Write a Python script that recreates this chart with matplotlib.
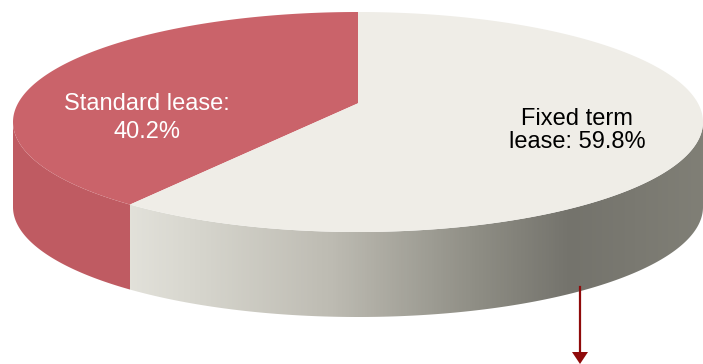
import matplotlib
matplotlib.use("Agg")
import matplotlib.pyplot as plt
import numpy as np
from matplotlib.colors import LinearSegmentedColormap
from matplotlib.patches import Polygon

plt.rcParams['font.family'] = ['Liberation Sans', 'DejaVu Sans']

labels = ["Fixed term\nlease: 59.8%", "Standard lease:\n40.2%"]
shares = [59.8, 40.2]

W, H = 703, 364
cx, top_y = 358, 12      # pie centre column, back of the rim
a, b = 345, 110          # half width and half height of the top outline
k = 0.17                 # perspective strength
depth = 85


def apex():
    return cx, top_y + b - b * k


def rim(theta):
    # theta in degrees, clockwise from the back of the pie
    t = np.radians(theta)
    u, v = np.sin(t), -np.cos(t)
    d = 1 - k * v
    x = cx + a * np.sqrt(1 - k ** 2) * u / d
    y = apex()[1] + b * (1 - k ** 2) * v / d
    return x, y


split = 360 * shares[0] / sum(shares)
th_fixed = np.linspace(0, split, 200)
th_std = np.linspace(split, 360, 200)

# only the front of the rim has a visible wall
edge = np.degrees(np.arccos(-k))
th_fixed_wall = np.linspace(edge, split, 200)
th_std_wall = np.linspace(split, 360 - edge, 200)

fig = plt.figure(figsize=(W / 100, H / 100), dpi=100)
ax = fig.add_axes([0, 0, 1, 1])
ax.set_xlim(0, W)
ax.set_ylim(H, 0)
ax.axis("off")

# side walls
xw, yw = rim(th_std_wall)
ax.fill(np.r_[xw, xw[::-1]], np.r_[yw, yw[::-1] + depth], color="#bf5b62", lw=0)

xw, yw = rim(th_fixed_wall)
wall = Polygon(np.c_[np.r_[xw, xw[::-1]], np.r_[yw, yw[::-1] + depth]], closed=True,
               transform=ax.transData, fc="none", ec="none")
ax.add_patch(wall)
side_cmap = LinearSegmentedColormap.from_list(
    "side", [(0.0, "#e6e5de"), (0.14, "#d8d7cf"), (0.38, "#bdbbb2"),
             (0.62, "#8f8e85"), (0.78, "#74736c"), (1.0, "#807f76")])
grad = ax.imshow(np.linspace(0, 1, 400)[None, :], cmap=side_cmap, aspect="auto",
                 extent=[105, W, H, 0], zorder=1)
grad.set_clip_path(wall)
ax.set_xlim(0, W)
ax.set_ylim(H, 0)

# top faces
ax0, ay0 = apex()
xs, ys = rim(th_std)
xf, yf = rim(th_fixed)
ax.fill(np.r_[ax0, xs], np.r_[ay0, ys], color="#ca636a", lw=0, zorder=2)
ax.fill(np.r_[ax0, xf], np.r_[ay0, yf], color="#efede7", lw=0, zorder=2)

ax.text(577, 130.5, labels[0], color="black", fontsize=17, ha="center", va="center",
        linespacing=1.1, zorder=3)
ax.text(147, 118, labels[1], color="white", fontsize=17, ha="center", va="center",
        linespacing=1.36, zorder=3)

# arrow leaving the pie
ax.plot([580, 580], [287, 353], color="#8f0a0a", lw=1.6, zorder=3)
ax.fill([572, 588, 580], [352, 352, 364], color="#8f0a0a", lw=0, zorder=3)

fig.savefig("out.png", dpi=100)
